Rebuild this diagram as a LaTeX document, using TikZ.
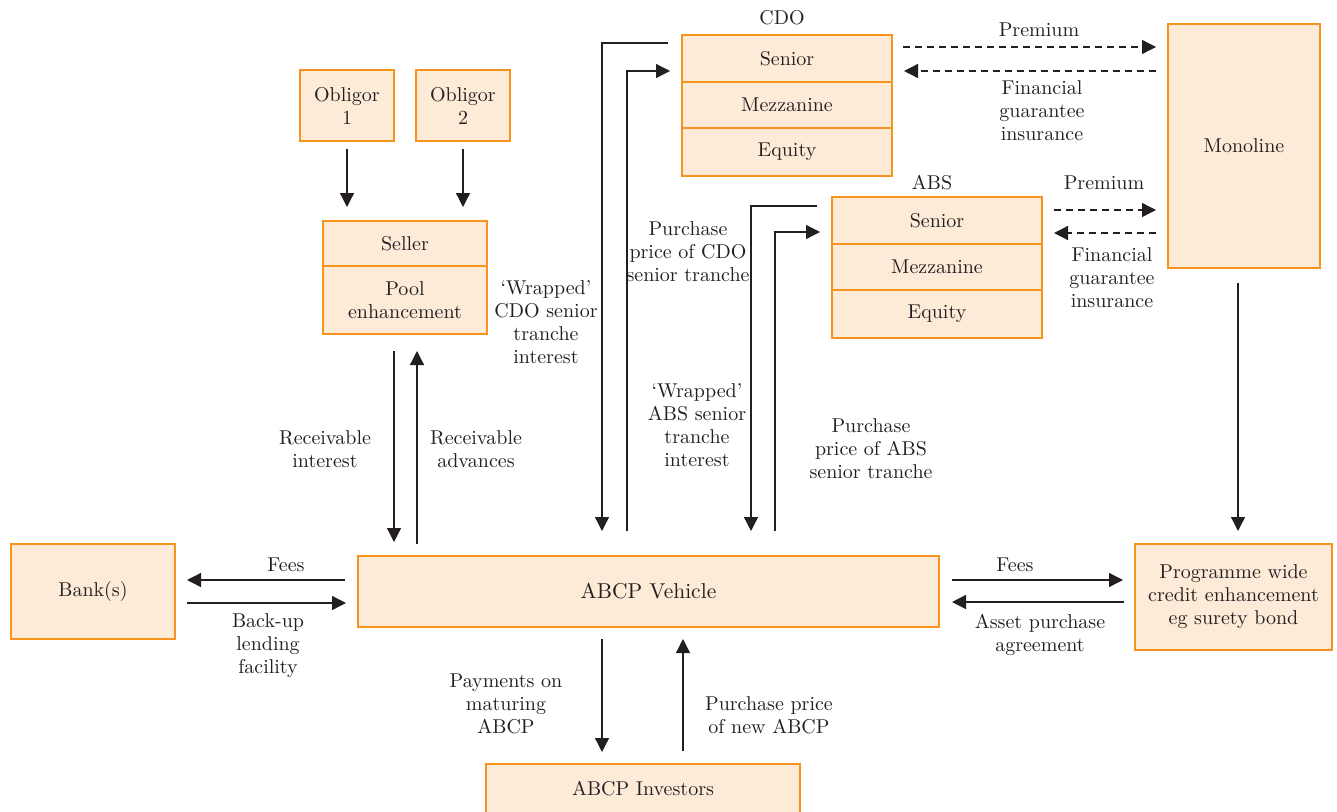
\documentclass[tikz,border=0pt]{standalone}
\usepackage{fontspec}
\setmainfont{lmroman10-regular.otf}[Ligatures=TeX]
\usetikzlibrary{arrows.meta,calc}
\definecolor{peach}{HTML}{FDEBD8}
\definecolor{orng}{HTML}{F7941D}
\definecolor{ink}{HTML}{231F20}
\newcommand\lblsize{\fontsize{20}{23}\selectfont}
\newcommand\bigsize{\fontsize{21.5}{25}\selectfont}
\begin{document}
\begin{tikzpicture}[x=1pt,y=-1pt,
  box/.style={draw=orng, fill=peach, line width=2pt, inner sep=0pt, align=center, font=\lblsize, text=ink},
  lbl/.style={align=center, font=\lblsize, text=ink, inner sep=0pt},
  arr/.style={draw=ink, line width=1.3pt, -{Triangle[length=14pt,width=14pt]}},
  dsh/.style={arr, dash pattern=on 7pt off 5pt}]
\useasboundingbox (0,0) rectangle (1337,811);
% boxes
\node[box, minimum width=210pt, minimum height=47pt] (cdoS) at (787,58.5) {Senior};
\node[box, minimum width=210pt, minimum height=46pt] (cdoM) at (787,105) {Mezzanine};
\node[box, minimum width=210pt, minimum height=48pt] (cdoE) at (787,152) {Equity};
\node[box, minimum width=210pt, minimum height=47pt] (absS) at (937,220.5) {Senior};
\node[box, minimum width=210pt, minimum height=46pt] (absM) at (937,267) {Mezzanine};
\node[box, minimum width=210pt, minimum height=48pt] (absE) at (937,314) {Equity};
\node[box, minimum width=152pt, minimum height=244pt] (mono) at (1244,146) {Monoline};
\node[box, minimum width=94pt, minimum height=71pt] (ob1) at (347,105.5) {Obligor\\1};
\node[box, minimum width=94pt, minimum height=71pt] (ob2) at (463,105.5) {Obligor\\2};
\node[box, minimum width=164pt, minimum height=45pt] (seller) at (405,243.5) {Seller};
\node[box, minimum width=164pt, minimum height=68pt] (pool) at (405,300) {Pool\\enhancement};
\node[box, minimum width=164pt, minimum height=95pt] (bank) at (93,591.5) {Bank(s)};
\node[box, minimum width=581pt, minimum height=71pt, font=\bigsize] (veh) at (648.5,591.5) {ABCP Vehicle};
\node[box, minimum width=197pt, minimum height=106pt] (prog) at (1233.5,597) {Programme wide\\credit enhancement\\eg surety bond};
\node[box, minimum width=314pt, minimum height=50pt] (inv) at (643,789) {ABCP Investors};
% labels
\node[lbl] (lcdo) at (782,18) {CDO};
\node[lbl] (labs) at (932,183) {ABS};
\node[lbl] (prem1) at (1039,30) {Premium};
\node[lbl] (fgi1) at (1042,111) {Financial\\guarantee\\insurance};
\node[lbl] (prem2) at (1104,183) {Premium};
\node[lbl] (fgi2) at (1112,278) {Financial\\guarantee\\insurance};
\node[lbl] (wcdo) at (546,322.5) {‘Wrapped’\\CDO senior\\tranche\\interest};
\node[lbl] (pcdo) at (688,252) {Purchase\\price of CDO\\senior tranche};
\node[lbl] (wabs) at (697,425) {‘Wrapped’\\ABS senior\\tranche\\interest};
\node[lbl] (pabs) at (871,449) {Purchase\\price of ABS\\senior tranche};
\node[lbl] (rint) at (325,449.5) {Receivable\\interest};
\node[lbl] (radv) at (476,449.5) {Receivable\\advances};
\node[lbl] (fees1) at (286,565) {Fees};
\node[lbl] (backup) at (268,646) {Back-up\\lending\\facility};
\node[lbl] (fees2) at (1015,565) {Fees};
\node[lbl] (asset) at (1040,634.5) {Asset purchase\\agreement};
\node[lbl] (pay) at (506,704) {Payments on\\maturing\\ABCP};
\node[lbl] (pnew) at (769,715.5) {Purchase price\\of new ABCP};
% connectors
\draw[arr] ($(ob1.south)+(0,7)$) -- ($(ob1.south |- seller.north)+(0,-13)$);
\draw[arr] ($(ob2.south)+(0,7)$) -- ($(ob2.south |- seller.north)+(0,-13)$);
\draw[arr] ($(pool.south)+(-11,16)$) -- ($(veh.north -| pool.south)+(-11,-13)$);
\draw[arr] ($(veh.north -| pool.south)+(12,-11)$) -- ($(pool.south)+(12,16)$);
\draw[arr] ($(cdoS.west)+(-13,-15.5)$) -| ($(veh.north)+(-46.5,-24)$);
\draw[arr] ($(veh.north)+(-21.5,-24)$) |- ($(cdoS.west)+(-11,12.5)$);
\draw[arr] ($(absS.west)+(-14,-14.5)$) -| ($(veh.north)+(102.5,-24)$);
\draw[arr] ($(veh.north)+(126.5,-24)$) |- ($(absS.west)+(-11,11.5)$);
\draw[dsh] ($(cdoS.east)+(10,-11.5)$) -- ($(mono.west |- cdoS.east)+(-11,-11.5)$);
\draw[dsh] ($(mono.west |- cdoS.east)+(-11,12.5)$) -- ($(cdoS.east)+(11,12.5)$);
\draw[dsh] ($(absS.east)+(11,-10.5)$) -- ($(mono.west |- absS.east)+(-11,-10.5)$);
\draw[dsh] ($(mono.west |- absS.east)+(-11,12.5)$) -- ($(absS.east)+(11,12.5)$);
\draw[arr] ($(mono.south)+(-6,14)$) -- ($(prog.north -| mono.south)+(-6,-12)$);
\draw[arr] ($(veh.west)+(-12,-11.5)$) -- ($(bank.east)+(11,-11.5)$);
\draw[arr] ($(bank.east)+(11,11.5)$) -- ($(veh.west)+(-11,11.5)$);
\draw[arr] ($(veh.east)+(12,-11.5)$) -- ($(prog.west |- veh.east)+(-11,-11.5)$);
\draw[arr] ($(prog.west |- veh.east)+(-10,10.5)$) -- ($(veh.east)+(12,10.5)$);
\draw[arr] ($(veh.south)+(-46.5,11)$) -- ($(inv.north -| veh.south)+(-46.5,-11)$);
\draw[arr] ($(inv.north -| veh.south)+(34.5,-12)$) -- ($(veh.south)+(34.5,11)$);
\end{tikzpicture}
\end{document}
